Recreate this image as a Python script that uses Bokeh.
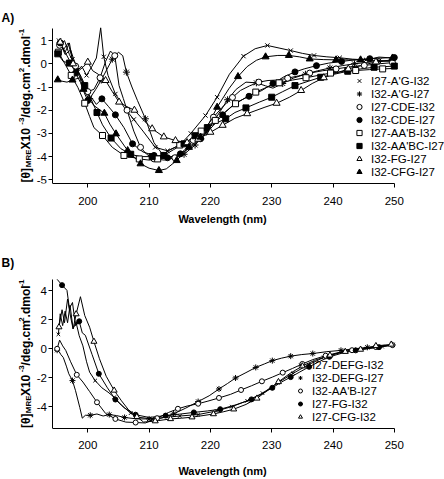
from math import pi
from bokeh.plotting import figure
from bokeh.models import Range1d, FixedTicker, Label, Legend, LegendItem
from bokeh.layouts import column
from bokeh.embed import file_html
from bokeh.resources import INLINE

FONT = "Liberation Sans"

# ---------------- data ----------------
x_ticks = [200, 210, 220, 230, 240, 250]
a_y_ticks = [-5, -4, -3, -2, -1, 0, 1]
b_y_ticks = [-4, -2, 0, 2, 4]

# Panel A
a_names = ["I27-A'G-I32", "I32-A'G-I27", "I27-CDE-I32", "I32-CDE-I27",
           "I27-AA'B-I32", "I32-AA'BC-I27", "I32-FG-I27", "I32-CFG-I27"]

a1_x = [195.3, 196.0, 196.8, 197.5, 198.3, 199.0, 199.8, 200.7, 201.4, 202.1, 202.6, 203.3, 204.5, 206.0, 207.5,
        209.0, 211.0, 213.0, 215.0, 216.8, 219.2, 221.1, 223.1, 225.4, 227.3, 229.3, 231.2, 233.1, 235.0, 236.9,
        239.0, 241.1, 243.2, 245.4, 247.5, 249.7]
a1_y = [1.0, 0.6, 0.9, 0.2, -0.3, -0.1, -0.5, -0.1, 0.25, 1.55, 0.3, -0.5, -1.3, -1.9, -2.4,
        -2.9, -3.6, -3.75, -3.5, -3.0, -2.23, -1.44, -0.45, 0.33, 0.65, 0.79, 0.68, 0.57, 0.45, 0.36,
        0.3, 0.26, 0.2, 0.17, 0.13, 0.1]

a2_x = [195.5, 196.3, 197.2, 198.2, 199.2, 200.3, 201.3, 202.2, 203.1, 204.0, 205.0, 205.7, 206.3, 207.2, 208.1,
        209.4, 210.8, 212.3, 214.0, 215.7, 217.5, 219.3, 221.0, 222.8, 224.2, 225.8, 227.5, 229.0, 230.2, 231.8,
        233.5, 235.5, 237.5, 239.5, 241.5, 243.5, 245.5, 247.5, 249.7]
a2_y = [0.9, 0.4, 0.6, -0.2, -0.8, -1.5, -1.1, -0.7, -0.25, 0.2, 0.5, 0.35, -0.36, -1.0, -1.58,
        -2.37, -3.4, -3.95, -4.05, -3.9, -3.5, -2.95, -2.3, -1.55, -1.1, -0.79, -0.82, -0.95, -1.05, -0.85,
        -0.62, -0.45, -0.3, -0.18, -0.08, 0.0, 0.06, 0.12, 0.16]

a3_x = [195.4, 196.2, 197.0, 198.0, 199.0, 200.0, 201.0, 202.0, 202.9, 203.7, 204.4, 205.1, 205.8, 206.4, 207.5,
        208.6, 209.6, 210.8, 212.5, 214.2, 215.7, 217.2, 218.9, 220.5, 222.2, 223.6, 224.9, 226.4, 227.9, 229.4,
        231.0, 232.6, 234.4, 236.2, 238.3, 240.5, 242.8, 245.1, 247.5, 249.7]
a3_y = [0.8, 1.0, 0.4, -0.1, -0.6, -1.2, -1.1, -0.6, 0.1, 0.55, 0.35, -0.94, -1.5, -2.0, -2.9,
        -3.6, -3.9, -4.1, -4.15, -4.05, -3.74, -3.3, -2.87, -2.3, -1.8, -1.45, -1.15, -0.95, -0.79, -0.72,
        -0.7, -0.62, -0.52, -0.4, -0.3, -0.22, -0.13, -0.07, 0.0, 0.05]

a4_x = [195.5, 196.3, 197.1, 198.0, 198.8, 199.5, 200.0, 200.6, 201.4, 202.3, 203.4, 204.5, 205.9, 207.3, 209.0,
        210.8, 213.0, 215.1, 216.8, 218.4, 220.0, 222.0, 224.0, 226.3, 228.4, 230.2, 232.0, 233.8, 235.3, 237.3,
        239.3, 241.4, 243.5, 246.0, 248.9, 250.0]
a4_y = [0.9, 0.5, 0.1, -0.4, -0.8, -1.3, -1.58, -1.45, -1.75, -1.51, -1.85, -2.2, -2.75, -3.45, -3.8,
        -3.95, -4.05, -3.88, -3.6, -3.23, -2.8, -2.2, -1.7, -1.4, -1.15, -0.85, -0.56, -0.35, -0.22, -0.08,
        0.03, 0.1, 0.17, 0.22, 0.26, 0.27]

a5_x = [195.2, 196.2, 197.3, 198.4, 199.5, 200.3, 201.0, 202.4, 204.0, 205.9, 208.4, 210.0, 211.4, 213.2, 215.0,
        216.5, 218.5, 220.8, 222.5, 224.1, 225.8, 227.4, 229.3, 231.2, 233.4, 235.6, 237.6, 239.6, 241.7, 243.7,
        246.0, 248.1, 250.0]
a5_y = [0.5, 0.03, -0.5, -1.03, -1.7, -2.27, -2.75, -3.09, -3.6, -3.95, -4.1, -4.15, -4.1, -3.74, -3.5,
        -3.31, -2.9, -2.44, -2.05, -1.72, -1.45, -1.22, -1.0, -0.82, -0.7, -0.6, -0.5, -0.4, -0.33, -0.29,
        -0.25, -0.22, -0.2]

a6_x = [195.1, 196.0, 197.0, 198.3, 199.5, 200.5, 201.5, 202.4, 203.8, 205.4, 207.0, 208.5, 210.5, 212.4, 214.0,
        215.7, 217.5, 219.5, 221.0, 222.5, 224.0, 225.8, 228.0, 230.0, 231.8, 233.8, 236.0, 238.0, 240.2, 242.4,
        244.5, 246.7, 248.5, 250.0]
a6_y = [0.43, 0.1, 0.03, -0.4, -0.94, -1.5, -2.1, -2.63, -3.2, -3.66, -3.9, -4.0, -4.0, -3.95, -3.7,
        -3.45, -3.1, -2.75, -2.55, -2.37, -2.1, -1.9, -1.65, -1.44, -1.2, -0.94, -0.75, -0.58, -0.45, -0.32,
        -0.22, -0.15, -0.12, -0.1]

a7_x = [195.5, 196.3, 197.0, 197.6, 198.5, 199.2, 200.0, 200.8, 201.7, 202.9, 204.0, 205.1, 206.4, 207.6, 209.0,
        210.5, 212.4, 214.3, 216.2, 218.0, 220.0, 222.0, 224.0, 226.0, 228.9, 230.8, 232.9, 234.8, 236.6, 238.5,
        240.5, 242.5, 244.5, 247.0, 249.7]
a7_y = [0.93, 0.5, 0.9, 0.0, -0.3, -0.15, 0.07, -0.3, -0.45, -0.72, -1.2, -1.65, -1.85, -2.0, -2.4,
        -2.8, -3.15, -3.31, -3.4, -3.25, -2.95, -2.65, -2.35, -2.15, -1.87, -1.7, -1.44, -1.15, -0.85, -0.6,
        -0.4, -0.22, -0.08, 0.08, 0.15]

a8_x = [195.1, 195.8, 196.6, 197.5, 198.7, 199.3, 200.0, 201.0, 202.7, 203.6, 204.6, 206.5, 208.6, 210.0, 211.6,
        212.8, 214.5, 216.5, 218.4, 219.8, 221.1, 223.0, 224.5, 226.0, 227.5, 229.0, 231.0, 232.8, 234.5, 236.2,
        238.5, 240.5, 242.5, 244.5, 246.0, 247.5, 249.7]
a8_y = [-0.69, -0.75, -0.79, -0.7, -0.6, -1.1, -1.44, -1.8, -2.13, -2.6, -3.02, -3.74, -4.31, -4.5, -4.6,
        -4.53, -4.17, -3.6, -3.16, -2.55, -1.87, -1.08, -0.55, -0.12, 0.15, 0.3, 0.36, 0.36, 0.3, 0.21,
        0.18, 0.17, 0.17, 0.17, 0.2, 0.29, 0.25]

# Panel B
b_names = ["I27-DEFG-I32", "I32-DEFG-I27", "I32-AA'B-I27", "I27-FG-I32", "I27-CFG-I32"]

b1_x = [195.2, 195.5, 195.9, 196.3, 196.7, 197.1, 197.6, 198.1, 198.6, 199.2, 199.8, 200.3, 201.2, 202.3, 203.3,
        204.3, 205.5, 207.0, 208.5, 210.5, 212.5, 215.0, 218.0, 221.0, 223.5, 226.0, 228.5, 231.0, 233.5, 236.0,
        238.5, 241.5, 244.0, 246.2, 248.0, 249.7]
b1_y = [1.0, 2.42, 1.6, 2.6, 1.8, 3.0, 1.4, 1.8, 0.9, 0.2, -0.9, -1.62, -2.2, -2.7, -3.0,
        -3.35, -3.9, -4.45, -4.75, -4.85, -4.75, -4.65, -4.55, -4.3, -4.0, -3.6, -3.07, -2.35, -1.7, -1.1,
        -0.6, -0.2, -0.05, 0.05, 0.15, 0.27]

b2_x = [195.0, 195.3, 195.6, 196.0, 196.5, 196.9, 197.5, 198.0, 198.7, 199.1, 199.6, 200.4, 201.5, 202.5, 203.5,
        204.7, 206.0, 208.0, 210.0, 212.0, 214.0, 216.0, 218.0, 219.8, 221.4, 222.8, 224.1, 225.8, 227.4, 228.8,
        230.1, 231.6, 233.1, 234.9, 236.7, 239.0, 241.3, 243.5, 245.6, 247.6, 249.7]
b2_y = [-0.1, -0.18, -0.4, -0.6, -1.2, -1.73, -2.2, -2.9, -4.07, -4.8, -4.6, -4.6, -4.51, -4.65, -4.55,
        -4.62, -4.75, -4.85, -4.85, -4.8, -4.5, -4.1, -3.65, -3.25, -2.78, -2.4, -2.02, -1.65, -1.29, -1.05,
        -0.82, -0.65, -0.51, -0.4, -0.33, -0.2, -0.11, 0.0, 0.1, 0.18, 0.27]

b3_x = [195.0, 195.4, 195.9, 196.4, 197.2, 198.2, 199.2, 200.3, 201.5, 202.9, 204.5, 206.2, 207.8, 209.4, 211.3,
        213.2, 214.7, 216.2, 218.0, 219.6, 221.4, 223.3, 225.0, 226.7, 228.4, 230.1, 231.8, 233.4, 235.0, 236.7,
        238.8, 241.0, 243.1, 245.3, 247.0, 248.6, 249.7]
b3_y = [0.0, 0.6, 0.2, -0.11, -0.9, -1.8, -2.3, -2.96, -3.7, -4.47, -4.85, -5.07, -5.1, -5.13, -4.8,
        -4.4, -4.15, -3.96, -3.8, -3.62, -3.4, -3.15, -2.85, -2.56, -2.25, -1.96, -1.65, -1.36, -1.05, -0.75,
        -0.48, -0.25, -0.1, 0.04, 0.12, 0.2, 0.25]

b4_x = [195.0, 195.8, 196.6, 197.0, 197.5, 198.0, 198.6, 199.1, 199.6, 200.7, 201.8, 203.2, 204.5, 206.0, 207.8,
        210.0, 212.7, 215.0, 217.3, 219.5, 221.6, 224.0, 226.7, 228.5, 230.1, 231.6, 233.1, 234.6, 236.1, 237.8,
        239.4, 241.5, 243.7, 245.6, 247.5, 249.5]
b4_y = [4.8, 4.4, 4.04, 2.8, 3.2, 1.6, 1.9, 1.1, 0.93, -0.4, -1.73, -2.7, -3.51, -4.1, -4.56,
        -4.75, -4.62, -4.52, -4.4, -4.3, -4.18, -3.9, -3.5, -3.1, -2.7, -2.3, -1.96, -1.6, -1.25, -0.88,
        -0.56, -0.3, -0.11, 0.0, 0.11, 0.25]

b5_x = [195.3, 195.8, 196.2, 196.7, 197.2, 197.6, 198.1, 198.8, 199.5, 200.3, 201.0, 201.9, 203.0, 204.3, 205.5,
        206.6, 208.0, 209.1, 211.0, 213.5, 215.3, 217.0, 218.8, 220.5, 222.2, 223.8, 225.8, 227.6, 229.4, 231.1,
        233.0, 235.0, 237.0, 239.5, 242.0, 244.5, 247.0, 249.5]
b5_y = [1.5, 2.7, 1.8, 3.44, 2.2, 1.37, 2.4, 3.6, 2.3, 1.49, 0.5, -0.69, -1.9, -2.88, -3.6,
        -4.2, -4.7, -5.07, -5.0, -4.85, -4.8, -4.73, -4.62, -4.51, -4.35, -4.18, -3.85, -3.43, -2.85, -2.29,
        -1.7, -1.2, -0.8, -0.45, -0.2, -0.05, 0.2, 0.3]

# ---------------- styling / layout ----------------
FIG_W = 444
PX_PER_NM = 6.13
X200_PX = 87.3
X_RANGE = (200 - X200_PX / PX_PER_NM, 200 + (FIG_W - X200_PX) / PX_PER_NM)
X_BOUNDS = (194.3, 250.0)

# panel A: frame spans page y 0..183, value 0 at y=63.3, 23.2 px per unit
A_H, A_FB = 240, 183
A_YR = ((63.3 - A_FB) / 23.2, 63.3 / 23.2)
A_YB = (A_YR[0], 1.53)
# panel B: frame spans page y 240..435, value 0 at y=352.3, 15 px per unit
B_H, B_FB = 239, 195
B_YR = ((112.3 - B_FB) / 15.0, 112.3 / 15.0)
B_YB = (B_YR[0], 4.78)

A_STYLE = [("x", "black", 6), ("asterisk", "black", 7), ("circle", "white", 6), ("circle", "black", 6),
           ("square", "white", 6), ("square", "black", 6), ("triangle", "white", 7), ("triangle", "black", 7)]
B_STYLE = [("x", "black", 5), ("asterisk", "black", 6), ("circle", "white", 5), ("circle", "black", 5),
           ("triangle", "white", 6)]

WIDTHS = {'[': .333, 'θ': .611, ']': .333, 'M': .833, 'R': .722, 'E': .667, ' ': .278, 'X': .667,
          '1': .556, '0': .556, '-': .333, '3': .556, '/': .278, 'd': .611, 'e': .556, 'g': .611,
          '.': .278, 'c': .556, 'm': .889, '2': .556, 'o': .611, 'l': .278}
YLABEL = [("[θ]", 12, 0.0), ("MRE", 8, 2.5), (" X10", 12, 0.0), ("-3", 8, -4.5),
          ("/deg.cm", 12, 0.0), ("2", 8, -4.5), (".dmol", 12, 0.0), ("-1", 8, -4.5)]


def marker_subset(xs, ys, gap_fn, ytop):
    mx, my, last = [], [], None
    for x, y in zip(xs, ys):
        if y >= ytop:
            continue
        if last is None or x - last >= gap_fn(last):
            mx.append(x)
            my.append(y)
            last = x
    return mx, my


def make_panel(letter, yr, ybounds, yticks, series, names, styles, height, frame_h,
               gap_fn, leg_loc, glyph_w, leg_standoff, letter_py, ylab_py,
               xmajor_standoff, xlabel_standoff):
    p = figure(width=FIG_W, height=height, x_range=Range1d(*X_RANGE), y_range=Range1d(*yr),
               output_backend="svg", toolbar_location=None,
               min_border_left=0, min_border_right=0, min_border_top=0,
               min_border_bottom=height - frame_h)
    p.xgrid.visible = False
    p.ygrid.visible = False
    p.outline_line_color = None
    p.background_fill_color = "white"

    def d(px, py):
        return (X_RANGE[0] + px * (X_RANGE[1] - X_RANGE[0]) / FIG_W,
                yr[0] + py * (yr[1] - yr[0]) / frame_h)

    items = []
    for (xs, ys) in series:
        p.line(xs, ys, line_color="black", line_width=1)
    for (xs, ys), name, (mk, fill, sz) in zip(series, names, styles):
        mx, my = marker_subset(xs, ys, gap_fn, ybounds[1])
        r = p.scatter(mx, my, marker=mk, size=sz, fill_color=fill, line_color="black", line_width=1)
        items.append(LegendItem(label=name, renderers=[r]))

    leg = Legend(items=items, location=leg_loc, orientation="vertical",
                 glyph_width=glyph_w, glyph_height=13, label_height=13, spacing=0,
                 padding=0, margin=0, label_standoff=leg_standoff,
                 border_line_color=None, background_fill_alpha=0,
                 label_text_font=FONT, label_text_font_size="11.5px", label_text_color="black")
    p.add_layout(leg)

    for ax in (p.xaxis[0], p.yaxis[0]):
        ax.axis_line_color = "black"
        ax.axis_line_width = 1
        ax.major_tick_line_color = "black"
        ax.major_tick_out = 4
        ax.major_tick_in = 0
        ax.minor_tick_line_color = None
        ax.major_label_text_font = FONT
        ax.major_label_text_font_size = "11.5px"
        ax.major_label_text_color = "black"
    p.xaxis.ticker = FixedTicker(ticks=x_ticks)
    p.xaxis.bounds = X_BOUNDS
    p.xaxis.major_label_standoff = xmajor_standoff
    p.xaxis.axis_label = "Wavelength (nm)"
    p.xaxis.axis_label_text_font = FONT
    p.xaxis.axis_label_text_font_size = "11px"
    p.xaxis.axis_label_text_font_style = "bold"
    p.xaxis.axis_label_text_color = "black"
    p.xaxis.axis_label_standoff = xlabel_standoff
    p.yaxis.fixed_location = X_BOUNDS[0]
    p.yaxis.bounds = ybounds
    p.yaxis.ticker = FixedTicker(ticks=yticks)
    p.yaxis.major_label_overrides = {t: str(t) for t in yticks}
    p.yaxis.major_label_standoff = 2

    # rotated y label built from pieces (sub/superscripts)
    pos = ylab_py
    for txt, fs, shift in YLABEL:
        x, y = d(25 + shift, pos)
        p.add_layout(Label(x=x, y=y, text=txt, angle=pi / 2, angle_units="rad",
                           text_align="left", text_baseline="alphabetic",
                           text_font=FONT, text_font_size=f"{fs}px", text_font_style="bold",
                           text_color="black"))
        pos += sum(WIDTHS[c] for c in txt) * fs

    lx, ly = d(1, letter_py)
    p.add_layout(Label(x=lx, y=ly, text=letter, text_align="left", text_baseline="alphabetic",
                       text_font=FONT, text_font_size="12px", text_font_style="bold",
                       text_color="black"))
    return p


a_series = [(a1_x, a1_y), (a2_x, a2_y), (a3_x, a3_y), (a4_x, a4_y),
            (a5_x, a5_y), (a6_x, a6_y), (a7_x, a7_y), (a8_x, a8_y)]
b_series = [(b1_x, b1_y), (b2_x, b2_y), (b3_x, b3_y), (b4_x, b4_y), (b5_x, b5_y)]

pA = make_panel("A)", A_YR, A_YB, a_y_ticks, a_series, a_names, A_STYLE, A_H, A_FB,
                lambda x: 1.8 if x < 221 else 3.2, (352, 5), 14, 5, A_FB - 17, 1,
                9, 5)
pB = make_panel("B)", B_YR, B_YB, b_y_ticks, b_series, b_names, B_STYLE, B_H, B_FB,
                lambda x: 2.5, (295, 5), 10, 7, B_FB - 23, 0.5,
                8, 13)

layout = column(pA, pB, spacing=0)
open("out.html", "w").write(file_html(layout, INLINE))
